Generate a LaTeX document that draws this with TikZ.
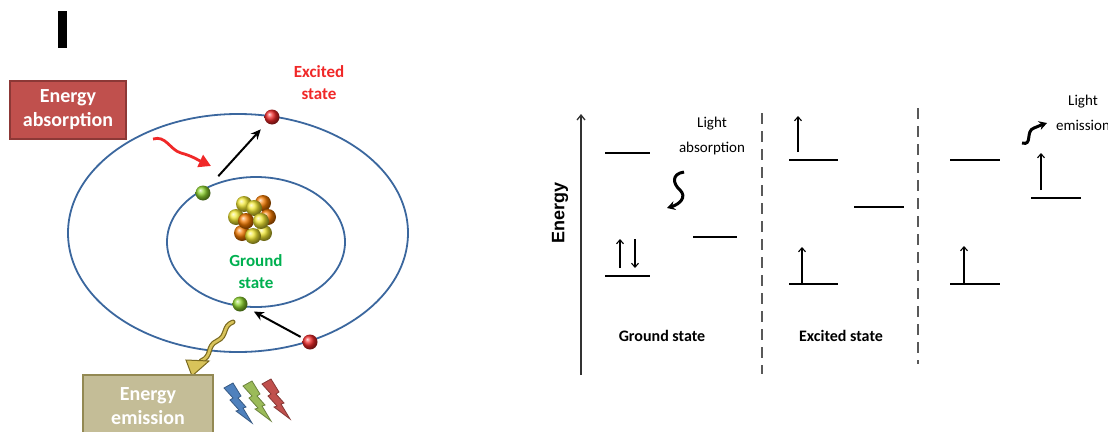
\documentclass[tikz,border=0pt]{standalone}
\usepackage{fontspec}
\setmainfont{Carlito}
\newfontfamily\axisfont{Liberation Sans}
\usetikzlibrary{arrows.meta}
\definecolor{orbitblue}{HTML}{3B679E}
\definecolor{eRed}{HTML}{F02828}
\definecolor{eGreen}{HTML}{8CD22C}
\definecolor{protonA}{HTML}{F57A00}
\definecolor{protonB}{HTML}{F2E833}
\definecolor{absfill}{HTML}{C0504D}
\definecolor{absline}{HTML}{8C3836}
\definecolor{emfill}{HTML}{C4BD97}
\definecolor{emline}{HTML}{938953}
\definecolor{gold}{HTML}{D8C35A}
\definecolor{golddark}{HTML}{7A6A20}
\definecolor{boltB}{HTML}{4F81BD}
\definecolor{boltG}{HTML}{9BBB59}
\definecolor{boltR}{HTML}{C0504D}
\definecolor{groundgreen}{HTML}{00B050}
\definecolor{dashgrey}{HTML}{595959}
\tikzset{
	orbit/.style={draw=orbitblue, line width=1.8pt},
	electron/.style={circle, inner sep=0pt, minimum size=15pt, ball color=#1},
	jump/.style={line width=2pt, -{Stealth[length=10pt,width=9pt]}},
	statebox/.style={rectangle, fill=#1fill, draw=#1line, line width=1.5pt, text=white,
			align=center, font=\bfseries\fontsize{20}{24}\selectfont},
	label/.style={align=center, font=\bfseries\fontsize{17}{22}\selectfont},
	level/.style={line width=1.5pt},
	spin/.style={line width=1.1pt, -{Straight Barb[length=4pt,width=7pt]}},
	squiggle/.style={line width=3pt, -{Stealth[length=8pt,width=9pt]}},
	divider/.style={dashgrey, line width=1.8pt, dash pattern=on 11pt off 7pt},
	caption/.style={font=\bfseries\fontsize{16}{20}\selectfont},
	light/.style={align=center, font=\fontsize{15}{25}\selectfont}
}
\begin{document}
\begin{tikzpicture}[x=1pt,y=-1pt]
	\useasboundingbox (0,0) rectangle (1108,431);
	\fill (58,11) rectangle (67,48);

	% atom: orbits, nucleus, electrons
	\node[statebox=abs, minimum width=116pt, minimum height=58pt] (absorb) at (68,110) {Energy\\absorption};
	\draw[orbit] (238,233) ellipse [x radius=170pt, y radius=119pt];
	\draw[orbit] (256,242) ellipse [x radius=89pt, y radius=65pt];
	\foreach \px/\py/\pc in {263/203/protonA, 244/204/protonB, 254/208/protonB, 268/217/protonA,
			236/217/protonB, 242/233/protonA, 264/233/protonB, 246/221/protonA, 261/221/protonB, 253/236/protonB}
		\shade[ball color=\pc] (\px,\py) circle[radius=8pt];
	\node[electron=eRed] (r1) at (272,117) {};
	\node[electron=eRed] (r2) at (310,342) {};
	\node[electron=eGreen] (g1) at (203,193) {};
	\node[electron=eGreen] (g2) at (240,304) {};
	\draw[jump, shorten <=15pt, shorten >=9pt] (g1) -- (r1);
	\draw[jump, shorten <=3pt, shorten >=8pt] (r2) -- (g2);

	\coordinate (inA) at (153,139);
	\coordinate (inB) at (211,166);
	\draw[eRed, line width=2.8pt, -{Triangle[length=12pt,width=13pt]}]
		(inA) .. controls (166,135) and (170,150) .. (181,153) .. controls (192,156) and (196,159) .. (inB);
	\coordinate (outA) at (233,322);
	\coordinate (outB) at (201,361);
	\draw[golddark, line width=5pt, line cap=round]
		(outA) .. controls (222,326) and (228,336) .. (217,341) .. controls (206,346) and (213,356) .. (outB);
	\draw[gold, line width=2.6pt, line cap=round]
		(outA) .. controls (222,326) and (228,336) .. (217,341) .. controls (206,346) and (213,356) .. (outB);
	\filldraw[fill=gold, draw=golddark, line width=1pt] (186,360) -- (209,361) -- (192,376) -- cycle;

	\node[label, text=eRed] (exc) at (319,83) {Excited\\state};
	\node[label, text=groundgreen] (gnd) at (256,272) {Ground\\state};

	\node[statebox=em, minimum width=130pt, minimum height=62pt] (emit) at (148,406) {Energy\\emission};
	\foreach \bc/\bx/\by in {boltB/224/380, boltG/243/378, boltR/262/376}
		\filldraw[fill=\bc, draw=\bc!70!black, line width=0.8pt, shift={(\bx,\by)}]
			(0,8) -- (9,3) -- (17,16) -- (14,18) -- (22,27) -- (19,28) -- (28,43)
			-- (12,31) -- (15,30) -- (6,20) -- (9,18) -- cycle;

	% energy levels
	\coordinate (eBot) at (581,375);
	\coordinate (eTop) at (581,114);
	\draw[black!80, line width=1.3pt, -{Straight Barb[length=5pt,width=8pt]}] (eBot) -- (eTop);
	\node[rotate=90, font=\axisfont\bfseries\fontsize{18}{18}\selectfont] (axis) at (560,213) {Energy};

	\draw[level] (605,153) -- (650,153);
	\draw[level] (605,276) -- (650,276);
	\draw[level] (693,237) -- (737,237);
	\draw[spin] (620,268) -- (620,239);
	\draw[spin] (635,239) -- (635,268);
	\node[light] (labs) at (712,136) {Light\\absorption};
	\coordinate (absA) at (684,172);
	\coordinate (absB) at (667,208);
	\draw[squiggle] (absA) .. controls (671,174) and (673,184) .. (680,190) .. controls (687,197) and (680,204) .. (absB);
	\node[caption] (cgnd) at (662,336) {Ground state};

	\draw[divider] (762,113) -- (762,374);

	\draw[level] (789,160) -- (838,160);
	\draw[level] (854,207) -- (904,207);
	\draw[level] (789,284) -- (838,284);
	\draw[spin] (798,152) -- (798,116);
	\draw[spin] (802,284) -- (802,247);
	\node[caption] (cexc) at (841,336) {Excited state};

	\draw[divider] (918,108) -- (918,364);

	\draw[level] (950,160) -- (1000,160);
	\draw[level] (950,284) -- (1000,284);
	\draw[level] (1031,198) -- (1081,198);
	\draw[spin] (964,284) -- (964,246);
	\draw[spin] (1041,190) -- (1041,153);
	\coordinate (emA) at (1022,143);
	\coordinate (emB) at (1047,123);
	\draw[squiggle] (emA) .. controls (1033,146) and (1025,131) .. (1034,128) .. controls (1039,126) and (1041,125) .. (emB);
	\node[light] (lem) at (1083,113) {Light\\emission};
\end{tikzpicture}
\end{document}
